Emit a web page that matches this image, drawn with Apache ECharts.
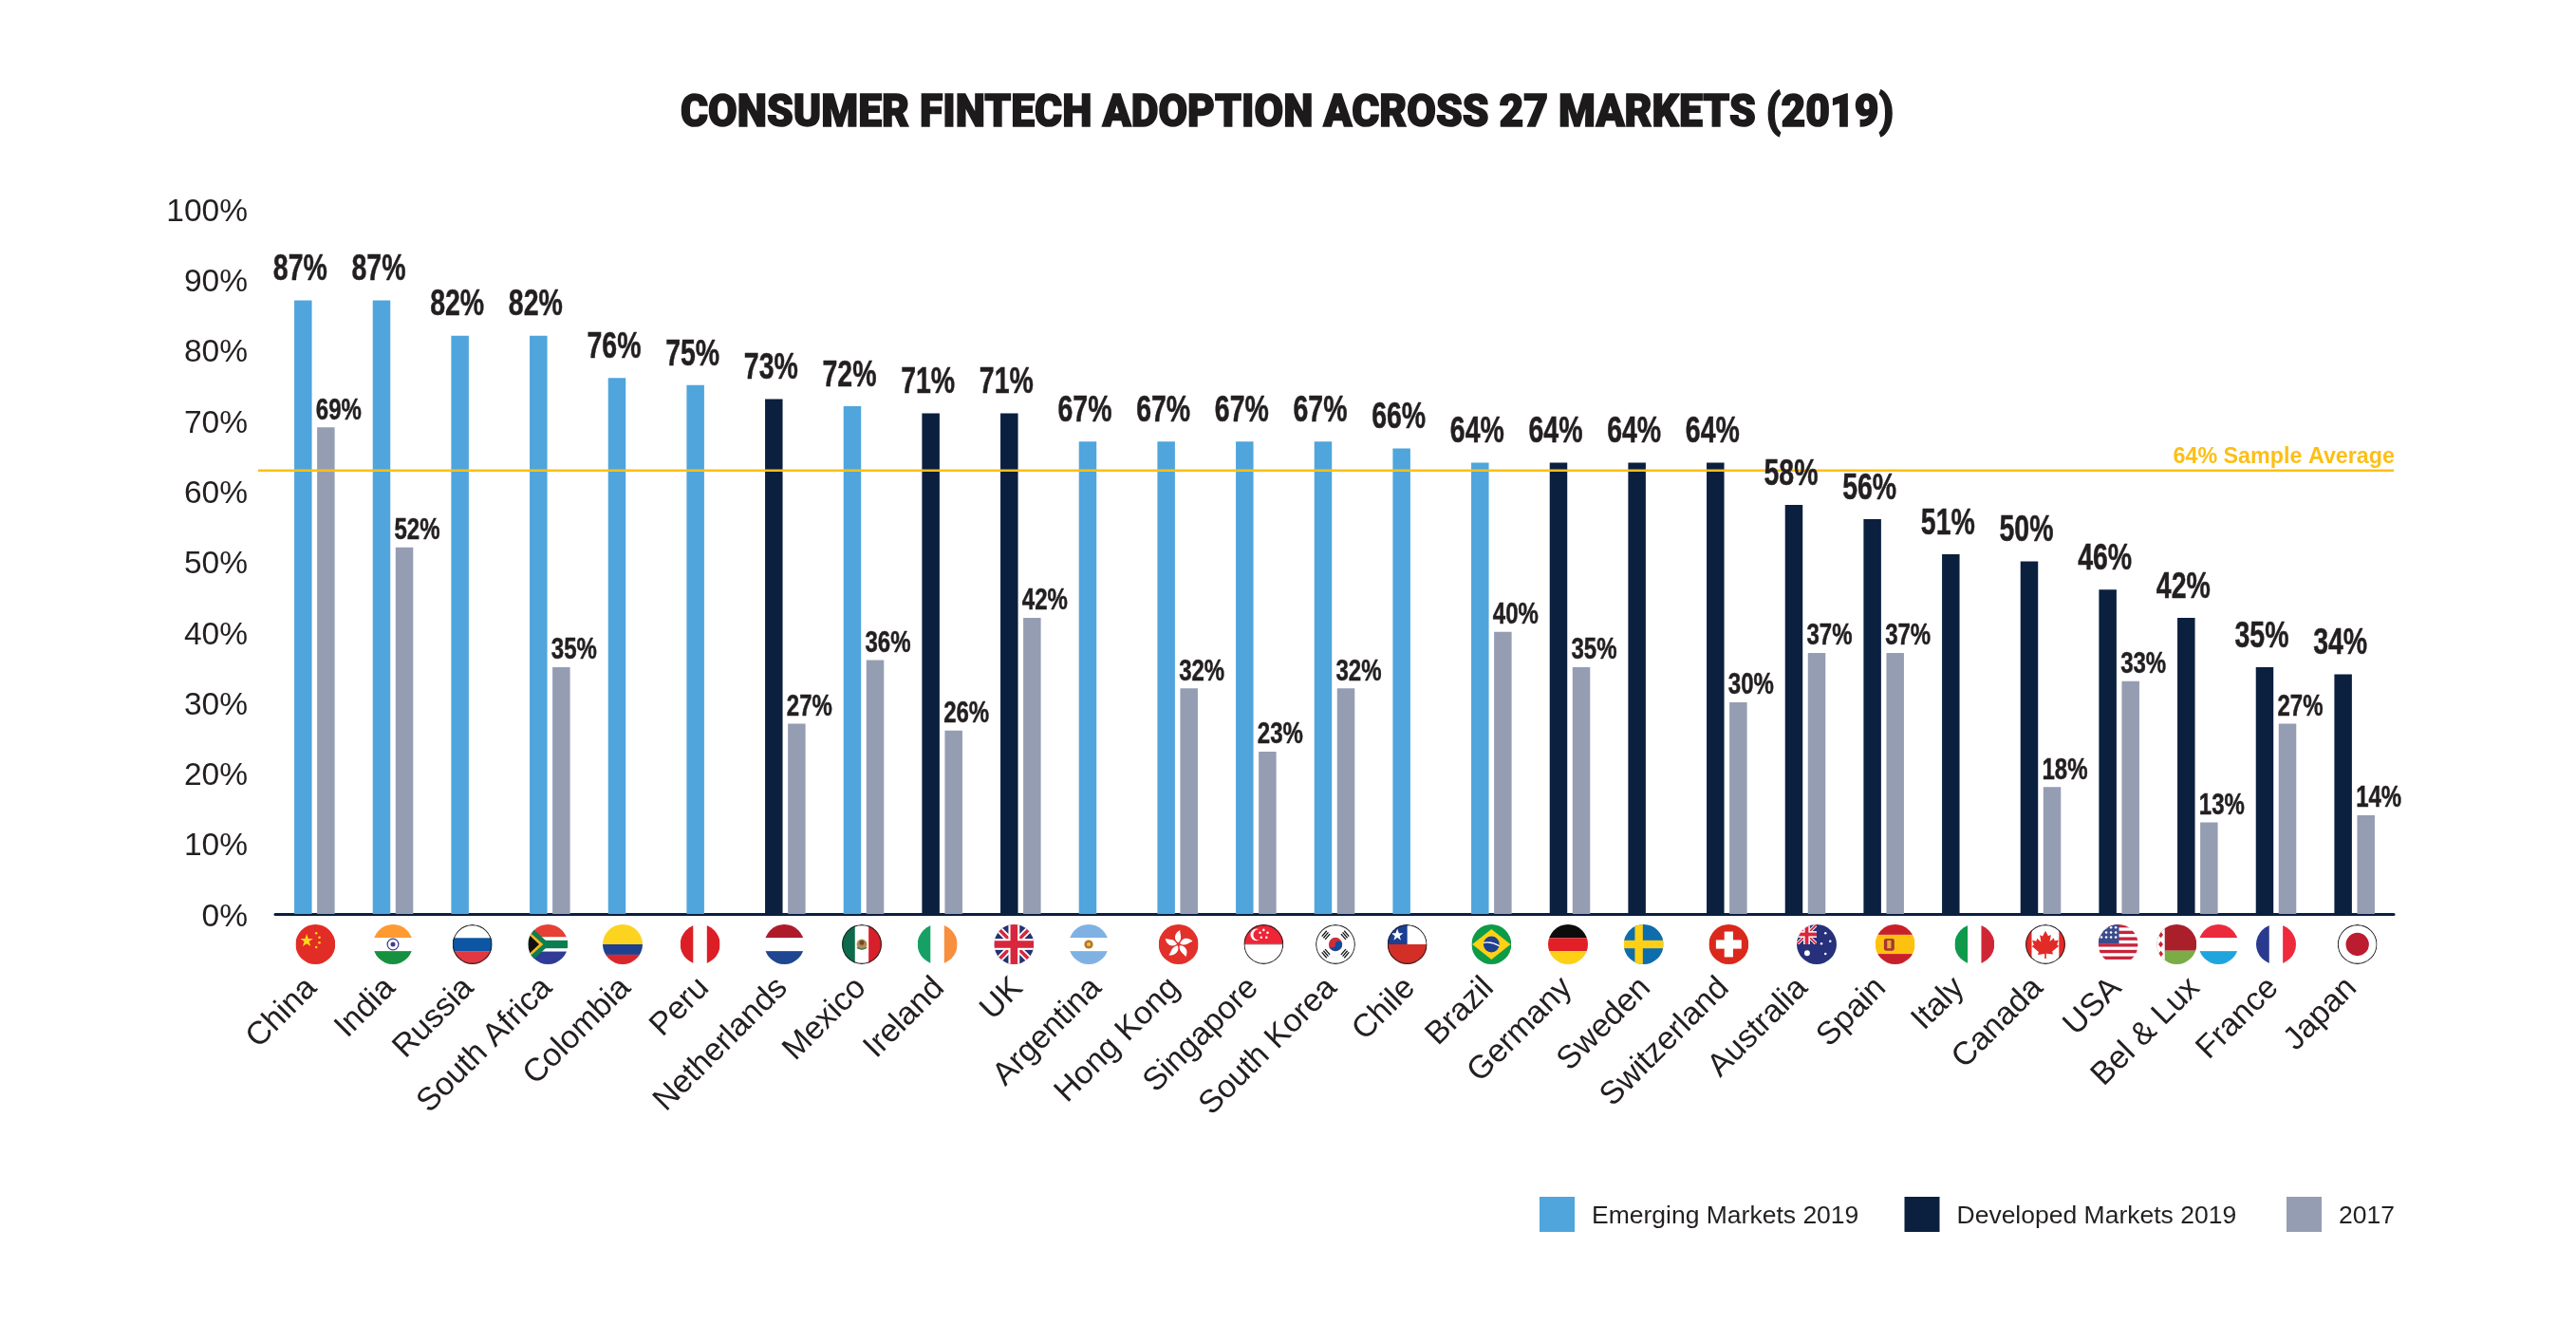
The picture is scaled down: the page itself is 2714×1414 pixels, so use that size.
<!DOCTYPE html>
<html><head><meta charset="utf-8">
<style>html,body{margin:0;padding:0;background:#fff}#c{width:2714px;height:1414px}</style>
<script src="https://cdn.jsdelivr.net/npm/echarts@6/dist/echarts.min.js"></script>
</head><body><div id="c"></div>
<script>
const categories = ['China','India','Russia','South Africa','Colombia','Peru','Netherlands','Mexico','Ireland','UK','Argentina','Hong Kong','Singapore','South Korea','Chile','Brazil','Germany','Sweden','Switzerland','Australia','Spain','Italy','Canada','USA','Bel & Lux','France','Japan'];
const emerging2019 = [87,87,82,82,76,75,null,72,null,null,67,67,67,67,66,64,null,null,null,null,null,null,null,null,null,null,null];
const developed2019 = [null,null,null,null,null,null,73,null,71,71,null,null,null,null,null,null,64,64,64,58,56,51,50,46,42,35,34];
const values2017 = [69,52,null,35,null,null,27,36,26,42,null,32,23,32,null,40,35,null,30,37,37,null,18,33,13,27,14];
const sampleLine = 62.9;
const sampleLabel = '64% Sample Average';
const chartTitle = 'CONSUMER FINTECH ADOPTION ACROSS 27 MARKETS (2019)';
const seriesNames = ['Emerging Markets 2019','Developed Markets 2019','2017'];
const flagCodes = ['cn','in','ru','za','co','pe','nl','mx','ie','gb','ar','hk','sg','kr','cl','br','de','se','ch','au','es','it','ca','us','by+lu','fr','jp'];
const flagNudge = [1,0,1,-2,-6,-7,-1,-2,-5,-7,-11,1,8,1,-6,0,-2,-5,2,12,12,13,5,-1,0,0,3];

const BLUE='#4fa5dc', NAVY='#0b1f3f', GREY='#959db3', GOLD='#fcbf17', INK='#231f20';

const st=(c,y,h)=>`<rect x="0" y="${y}" width="100" height="${h}" fill="${c}"/>`;
const sv=(c,x,w)=>`<rect x="${x}" y="0" width="${w}" height="100" fill="${c}"/>`;
const p=(c,d)=>`<path fill="${c}" d="${d}"/>`;
const ring='<circle cx="50" cy="50" r="48.5" fill="none" stroke="#222" stroke-width="2.5"/>';
const flags={
 cn: st('#e12d26',0,100)+p('#ffd81c','M28 24l4 12 12 0-10 7 4 12-10-7-10 7 4-12-10-7 12 0z')+'<circle cx="52" cy="22" r="3" fill="#ffd81c"/><circle cx="60" cy="33" r="3" fill="#ffd81c"/><circle cx="60" cy="46" r="3" fill="#ffd81c"/><circle cx="52" cy="57" r="3" fill="#ffd81c"/>',
 in: st('#ff9a33',0,34)+st('#fff',34,33)+st('#17913f',67,33)+'<circle cx="50" cy="50" r="14" fill="#fff" stroke="#3b3f93" stroke-width="3"/><circle cx="50" cy="50" r="6" fill="#3b3f93"/>',
 ru: st('#fff',0,34)+st('#0c56a3',34,33)+st('#e13842',67,33)+ring,
 za: st('#e63f36',0,32)+st('#fff',32,36)+st('#2f3b97',68,32)+st('#0b7f50',40,20)+p('#0b7f50','M0 0l55 50-55 50 0-22 30-28-30-28z')+p('#ffb81c','M0 16l38 34-38 34 0-10 26-24-26-24z')+p('#111','M0 24l28 26-28 26z'),
 co: st('#fcd31f',0,50)+st('#1f3f8f',50,26)+st('#d8262b',76,24),
 pe: sv('#dc1f26',0,33)+sv('#fff',33,34)+sv('#dc1f26',67,33),
 nl: st('#ae1c2c',0,34)+st('#fff',34,33)+st('#1f4690',67,33),
 mx: sv('#0d6a4c',0,33)+sv('#fff',33,34)+sv('#d7202b',67,33)+'<circle cx="50" cy="50" r="13" fill="#b58a52"/><circle cx="50" cy="46" r="6" fill="#6b4b2a"/><path d="M38 58q12 8 24 0" stroke="#2f7d4a" stroke-width="3" fill="none"/>'+ring,
 ie: sv('#17a065',0,33)+sv('#fff',33,34)+sv('#f88f3e',67,33),
 gb: st('#27316f',0,100)+p('#fff','M0 0h12l88 88v12h-12L0 12zM100 0v12L12 100H0V88L88 0z')+p('#d7263d','M0 0h6l94 94v6h-6L0 6zM100 0v6L6 100H0v-6L94 0z')+st('#fff',36,28)+sv('#fff',36,28)+st('#d7263d',41,18)+sv('#d7263d',41,18),
 ar: st('#7fb2e2',0,34)+st('#fff',34,33)+st('#7fb2e2',67,33)+'<circle cx="50" cy="50" r="11" fill="#b5791f"/><circle cx="50" cy="50" r="5" fill="#f2c14e"/>',
 hk: st('#e1312a',0,100)+'<g fill="#fff" transform="translate(50 50)"><path d="M0-4C-14-12-10-30 4-36c-2 10 8 18-4 32z"/><path d="M0-4C-14-12-10-30 4-36c-2 10 8 18-4 32z" transform="rotate(72)"/><path d="M0-4C-14-12-10-30 4-36c-2 10 8 18-4 32z" transform="rotate(144)"/><path d="M0-4C-14-12-10-30 4-36c-2 10 8 18-4 32z" transform="rotate(216)"/><path d="M0-4C-14-12-10-30 4-36c-2 10 8 18-4 32z" transform="rotate(288)"/></g>',
 sg: st('#ee2536',0,50)+st('#fff',50,50)+st('#999',49,2)+'<circle cx="32" cy="26" r="15" fill="#fff"/><circle cx="38" cy="26" r="14" fill="#ee2536"/><g fill="#fff"><circle cx="50" cy="14" r="3"/><circle cx="60" cy="21" r="3"/><circle cx="57" cy="33" r="3"/><circle cx="44" cy="33" r="3"/><circle cx="41" cy="21" r="3"/></g>'+ring,
 kr: st('#fff',0,100)+'<circle cx="50" cy="50" r="17" fill="#cd2e3a"/><path d="M33 50a17 17 0 0 0 34 0a8.5 8.5 0 0 0-17 0a8.5 8.5 0 0 1-17 0z" fill="#0f4c9c"/><g stroke="#111" stroke-width="3"><path d="M16 30l12-14M20 34l12-14M24 38l12-14M84 30L72 16M80 34L68 20M76 38L64 24M16 70l12 14M20 66l12 14M24 62l12 14M84 70L72 84M80 66L68 80M76 62L64 76"/></g>'+ring,
 cl: st('#fff',0,50)+st('#d42f26',50,50)+'<rect width="50" height="50" fill="#1b3f92"/>'+p('#fff','M25 11l4 11 11 0-9 7 3 11-9-7-9 7 3-11-9-7 11 0z')+ring,
 br: st('#0e9b48',0,100)+p('#fcd116','M50 12L98 50 50 88 2 50z')+'<circle cx="50" cy="50" r="20" fill="#1f3f8f"/><path d="M30 46q20-4 40 8" stroke="#fff" stroke-width="3" fill="none"/>',
 de: st('#0c0c0c',0,34)+st('#e01f26',34,33)+st('#fdd017',67,33),
 se: st('#0e6dac',0,100)+st('#fdd017',40,20)+sv('#fdd017',28,20),
 ch: st('#da291c',0,100)+'<rect x="18" y="39" width="64" height="22" fill="#fff"/><rect x="39" y="18" width="22" height="64" fill="#fff"/>',
 au: st('#27307a',0,100)+'<svg x="0" y="0" width="50" height="50" viewBox="0 0 100 100">'+p('#fff','M0 0h12l88 88v12h-12L0 12zM100 0v12L12 100H0V88L88 0z')+p('#d7263d','M0 0h6l94 94v6h-6L0 6zM100 0v6L6 100H0v-6L94 0z')+st('#fff',34,32)+sv('#fff',34,32)+st('#d7263d',41,18)+sv('#d7263d',41,18)+'</svg><g fill="#fff"><circle cx="26" cy="72" r="7"/><circle cx="72" cy="22" r="3"/><circle cx="84" cy="42" r="3"/><circle cx="72" cy="74" r="3"/><circle cx="62" cy="48" r="3"/></g>',
 es: st('#c8202b',0,26)+st('#fdc20f',26,48)+st('#c8202b',74,26)+'<rect x="22" y="36" width="26" height="30" rx="5" fill="#a6362e"/><rect x="30" y="40" width="10" height="20" fill="#e9a83b"/>',
 it: sv('#0f9a4b',0,33)+sv('#fff',33,34)+sv('#cf2636',67,33),
 ca: sv('#e22a26',0,16)+sv('#fff',16,68)+sv('#e22a26',84,16)+p('#e22a26','M50 16l7 13 7-3-3 17 10-9 2 7 10-2-4 12 5 3-17 14 2 7-17-2v13h-4V74l-17 2 2-7-17-14 5-3-4-12 10 2 2-7 10 9-3-17 7 3z')+ring,
 us: st('#fff',0,100)+[0,16,32,48,64,80].map(y=>st('#c8243c',y,8)).join('')+'<rect width="52" height="48" fill="#3b4c8c"/><g fill="#fff">'+[8,20,32,44].map(x=>[8,20,32].map(y=>`<circle cx="${x}" cy="${y}" r="3"/>`).join('')).join('')+'</g>',
 by: st('#a91f2a',0,66)+st('#7aad46',66,34)+'<rect width="20" height="100" fill="#fff"/><g fill="#c8242d"><path d="M10 18l6 8-6 8-6-8z"/><path d="M10 42l6 8-6 8-6-8z"/><path d="M10 66l6 8-6 8-6-8z"/></g>',
 lu: st('#ec2a3e',0,34)+st('#fff',34,33)+st('#1fa5de',67,33),
 fr: sv('#2a3a8f',0,33)+sv('#fff',33,34)+sv('#ee2a3c',67,33),
 jp: st('#fff',0,100)+'<circle cx="50" cy="50" r="29" fill="#bc1c30"/>'+ring
};
const flagUri=code=>'data:image/svg+xml;charset=utf-8,'+encodeURIComponent(
 `<svg xmlns="http://www.w3.org/2000/svg" width="168" height="168" viewBox="0 0 100 100"><defs><clipPath id="k"><circle cx="50" cy="50" r="50"/></clipPath></defs><g clip-path="url(#k)">${flags[code]}</g></svg>`);

const chart=echarts.init(document.getElementById('c'),null,{renderer:'canvas'});
const barBase={type:'bar',barWidth:18.5,barGap:'30%',cursor:'default'};
const valueLabels=(pairs,fontSize,scaleX,dx,lift)=>({type:'custom',silent:true,clip:false,z:8,data:pairs,encode:{x:0,y:1},
  renderItem:(params,api)=>{
   const c=api.coord([api.value(0),api.value(1)]);
   return {type:'text',x:c[0]+dx,y:c[1]-lift,scaleX,style:{text:api.value(1)+'%',align:'center',verticalAlign:'middle',fill:INK,stroke:INK,lineWidth:0.5,font:`bold ${fontSize}px "Liberation Sans"`}};
  }});
const pairs=(arr)=>arr.map((v,i)=>[i,v]).filter(d=>d[1]!=null);
const legendAt=(name,left)=>({left,top:1261,padding:0,itemWidth:37,itemHeight:37,icon:'rect',selectedMode:false,data:[name],
  formatter:'{t|{name}}',
  textStyle:{rich:{t:{fontFamily:'"Liberation Sans"',fontSize:26.5,color:INK,padding:[5,0,0,13]}}}});
chart.setOption({
 animation:false,
 backgroundColor:'#fff',
 graphic:[{type:'text',x:1356,y:121,scaleX:0.925,silent:true,style:{text:chartTitle,align:'center',verticalAlign:'middle',fill:'#1c1a1b',stroke:'#1c1a1b',lineWidth:1.6,font:'900 48px Roboto'}}],
 legend:[legendAt(seriesNames[0],1622),legendAt(seriesNames[1],2006.5),legendAt(seriesNames[2],2409)],
 grid:{left:290,right:192,top:220,bottom:451,containLabel:false},
 xAxis:{type:'category',data:categories,axisTick:{show:false},axisLine:{lineStyle:{color:NAVY,width:3}},
  axisLabel:{interval:0,rotate:45,margin:70,padding:[0,4,0,0],fontFamily:'"Liberation Sans"',fontSize:34,color:INK}},
 yAxis:{type:'value',min:0,max:100,interval:10,splitLine:{show:false},axisLine:{show:false},axisTick:{show:false},
  axisLabel:{margin:29,verticalAlign:'top',lineHeight:7,fontFamily:'"Liberation Sans"',fontSize:33.5,color:INK,formatter:'{value}%'}},
 series:[
  {...barBase,name:seriesNames[0],stack:'y19',data:emerging2019,itemStyle:{color:BLUE}},
  {...barBase,name:seriesNames[1],stack:'y19',data:developed2019,itemStyle:{color:NAVY}},
  {...barBase,name:seriesNames[2],data:values2017,itemStyle:{color:GREY}},
  {type:'custom',name:'flags',silent:true,clip:false,z:5,data:categories.map((c,i)=>[i]),encode:{x:0},
   renderItem:(params,api)=>{
    const i=api.value(0), c=api.coord([i,0]);
    const codes=flagCodes[i].split('+');
    const r=21, cy=c[1]+32;
    const dx=codes.length>1?[-22,22]:[0];
    return {type:'group',children:codes.map((k,j)=>({type:'image',style:{image:flagUri(k),x:c[0]+flagNudge[i]+dx[j]-r,y:cy-r,width:2*r,height:2*r}}))};
   }},
  {type:'custom',name:'average',silent:true,clip:false,z:6,data:[[0,sampleLine]],encode:{x:0,y:1},
   renderItem:(params,api)=>{
    const y=api.coord([0,api.value(1)])[1];
    return {type:'group',children:[
     {type:'line',shape:{x1:272,y1:y,x2:2522,y2:y},style:{stroke:GOLD,lineWidth:2.5}},
     {type:'text',style:{text:sampleLabel,x:2523,y:y-14,align:'right',verticalAlign:'middle',fill:GOLD,font:'bold 23.3px "Liberation Sans"'}}
    ]};
   }},
  {...valueLabels(pairs(emerging2019),39,0.73,-15,32),name:'emergingLabels'},
  {...valueLabels(pairs(developed2019),39,0.73,-15,32),name:'developedLabels'},
  {...valueLabels(pairs(values2017),32,0.75,25.5,17.5),name:'labels2017'}
 ]
});
</script></body></html>
